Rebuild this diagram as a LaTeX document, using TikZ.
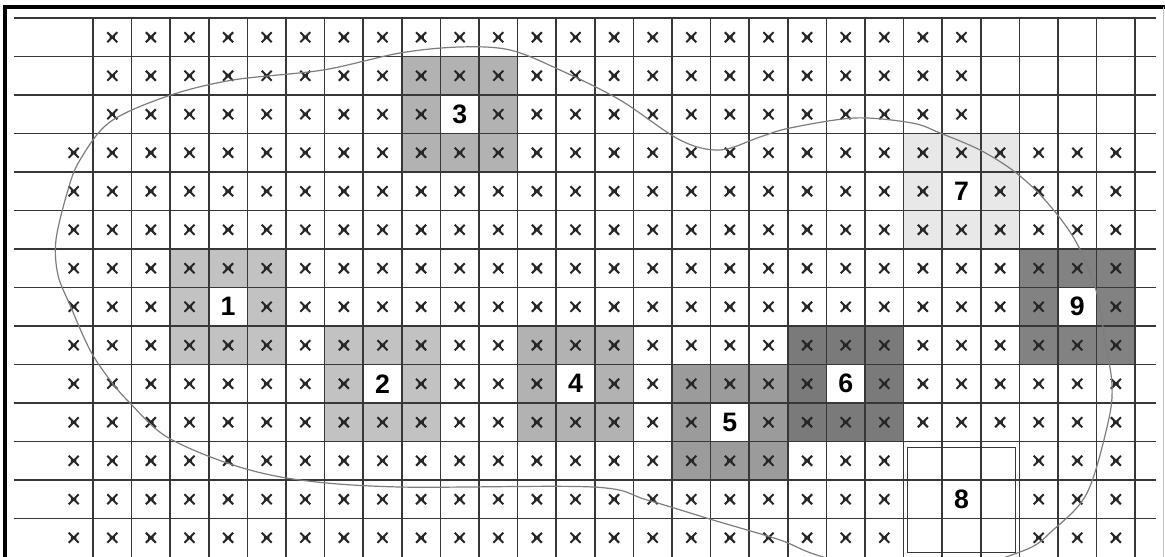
\documentclass[tikz,border=0pt]{standalone}
\usepackage{fontspec}
\setmainfont{Liberation Sans}
\definecolor{gridline}{RGB}{55,55,55}
\definecolor{curvegray}{RGB}{125,125,125}
\definecolor{shadeA}{RGB}{194,194,194}
\definecolor{shadeB}{RGB}{178,178,178}
\definecolor{shadeC}{RGB}{155,155,155}
\definecolor{shadeD}{RGB}{122,122,122}
\definecolor{shadeE}{RGB}{130,130,130}
\definecolor{shadeF}{RGB}{232,232,232}
\tikzset{
  gridrule/.style={gridline,line width=1.1pt},
  crossmark/.style={black!85,line width=1.5pt},
  clusterlabel/.style={font=\bfseries\fontsize{20}{20}\selectfont,inner sep=0pt},
  boundary/.style={curvegray,line width=0.9pt}
}
\newcommand{\samplept}[2]{%
  \draw[crossmark] (#1+.5,#2+.5) +(-.13,-.13) -- +(.13,.13) +(-.13,.13) -- +(.13,-.13) +(-.07,0) -- +(.07,0);}

\begin{document}
\begin{tikzpicture}[x=28.95pt,y=-28.875pt]
        \useasboundingbox (-1.409,-0.4675) rectangle (28.772,13.974);
        % shaded 3x3 clusters
        \foreach \n/\cx/\ry/\sh in {1/4/7/shadeA,2/8/9/shadeA,3/10/2/shadeB,4/13/9/shadeB,
                                  5/17/10/shadeC,6/20/9/shadeD,7/23/4/shadeF,9/26/7/shadeE}{
            \fill[\sh] (\cx-1,\ry-1) rectangle (\cx+2,\ry+2);
            \fill[white] (\cx,\ry) rectangle (\cx+1,\ry+1);}
        % sample points (none in the centre cells and in block 8)
        \foreach \ry in {0,1,2}{
            \foreach \cx in {1,...,23}{\samplept{\cx}{\ry}}}
        \foreach \ry in {3,...,10}{
            \foreach \cx in {0,...,27}{\samplept{\cx}{\ry}}}
        \foreach \ry in {11,12,13}{
            \foreach \cx in {0,...,21,25,26,27}{\samplept{\cx}{\ry}}}
        \foreach \cx/\ry in {4/7,8/9,10/2,13/9,17/10,20/9,23/4,26/7}{
            \fill[white] (\cx,\ry) rectangle (\cx+1,\ry+1);}
        % frame
        \draw[black,line width=2.3pt] (-1.28,14.1) -- (-1.28,-0.286) -- (28.772,-0.286);
        \draw[black!25,line width=0.6pt] (28.72,-0.286) -- (28.72,14.1);
        % grid
        \foreach \ry in {0,...,13}{
            \draw[gridrule] (-1.047,\ry) -- (28.54,\ry);}
        \foreach \cx in {1,...,28}{
            \draw[gridrule] (\cx,0) -- (\cx,14.1);}
        % block 8: double frame over the grid
        \draw[gridline,line width=0.9pt] (22,11) rectangle (25,14.1);
        \draw[gridline,line width=0.6pt] (22.11,11.15) rectangle (24.89,13.88);
        \foreach \cx in {23,24}{
            \draw[gridrule] (\cx,11) -- (\cx,14.1);}
        \foreach \ry in {12,13}{
            \draw[gridrule] (22,\ry) -- (25,\ry);}
        % labels
        \foreach \n/\cx/\ry in {1/4/7,2/8/9,3/10/2,4/13/9,5/17/10,6/20/9,7/23/4,9/26/7,8/23/12}{
            \node[clusterlabel] (lab\n) at (\cx+.5,\ry+.5) {\n};}
        % study area outline
        \begin{scope}
            \clip (-1.409,-0.4675) rectangle (28.772,13.974);
            \draw[boundary] plot[smooth cycle,tension=0.55] coordinates {
                (0.352,4.468) (0.041,5.766) (0.093,6.675) (0.404,7.455) (0.922,8.623)
                (1.440,9.403) (1.958,10.0) (2.917,10.883) (4.627,11.610) (6.363,12.0)
                (8.954,12.182) (13.953,12.182) (15.352,12.519) (17.062,13.039) (18.798,13.558)
                (19.834,13.974) (22.295,14.597) (25.016,13.870) (25.871,13.299) (26.751,12.338)
                (27.295,10.519) (27.399,9.532) (27.218,8.364) (26.984,7.065) (26.440,5.766)
                (25.663,4.727) (24.886,4.0) (23.979,3.429) (22.943,2.987) (22.218,2.727)
                (20.741,2.597) (19.057,2.857) (18.280,3.091) (17.244,3.429) (16.207,3.169)
                (14.653,2.130) (13.098,1.351) (11.803,0.831) (10.508,0.753) (8.953,0.909)
                (6.959,1.351) (4.627,1.610) (2.943,2.026) (1.440,2.701) (0.663,3.688)};
        \end{scope}
      \end{tikzpicture}
\end{document}
